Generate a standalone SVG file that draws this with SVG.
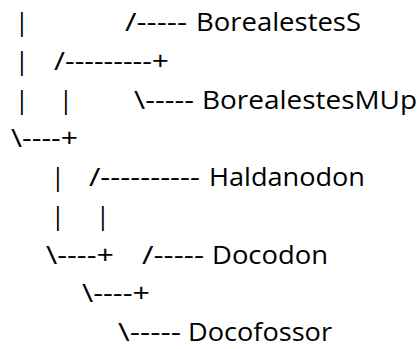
<svg xmlns="http://www.w3.org/2000/svg" width="419" height="349" viewBox="0 0 419 349">
<style>
text{font-family:"Open Sans","Noto Sans","Liberation Sans",sans-serif;font-size:25px;fill:#000}
</style>
<rect width="419" height="349" fill="#fff"/>
<g id="connectors">
<text x="15" y="31">|</text>
<text x="125" y="31" textLength="62" lengthAdjust="spacingAndGlyphs">/-----</text>
<text x="15" y="70">|</text>
<text x="54" y="70" textLength="115" lengthAdjust="spacingAndGlyphs">/---------+</text>
<text x="15" y="108.5">|</text>
<text x="59" y="108.5">|</text>
<text x="134" y="108.5" textLength="60" lengthAdjust="spacingAndGlyphs">\-----</text>
<text x="11" y="147" textLength="67" lengthAdjust="spacingAndGlyphs">\----+</text>
<text x="51" y="186">|</text>
<text x="89" y="186" textLength="111" lengthAdjust="spacingAndGlyphs">/----------</text>
<text x="51" y="225">|</text>
<text x="96" y="225">|</text>
<text x="46" y="263.5" textLength="68" lengthAdjust="spacingAndGlyphs">\----+</text>
<text x="142" y="263.5" textLength="62" lengthAdjust="spacingAndGlyphs">/-----</text>
<text x="82" y="302" textLength="68" lengthAdjust="spacingAndGlyphs">\----+</text>
<text x="118" y="341" textLength="63" lengthAdjust="spacingAndGlyphs">\-----</text>
</g>
<g id="BorealestesS"><text x="196" y="31" textLength="165" lengthAdjust="spacingAndGlyphs">BorealestesS</text></g>
<g id="BorealestesMUp"><text x="202" y="108.5" textLength="215" lengthAdjust="spacingAndGlyphs">BorealestesMUp</text></g>
<g id="Haldanodon"><text x="209" y="186" textLength="156" lengthAdjust="spacingAndGlyphs">Haldanodon</text></g>
<g id="Docodon"><text x="212" y="263.5" textLength="116" lengthAdjust="spacingAndGlyphs">Docodon</text></g>
<g id="Docofossor"><text x="188" y="341" textLength="144" lengthAdjust="spacingAndGlyphs">Docofossor</text></g>
</svg>
